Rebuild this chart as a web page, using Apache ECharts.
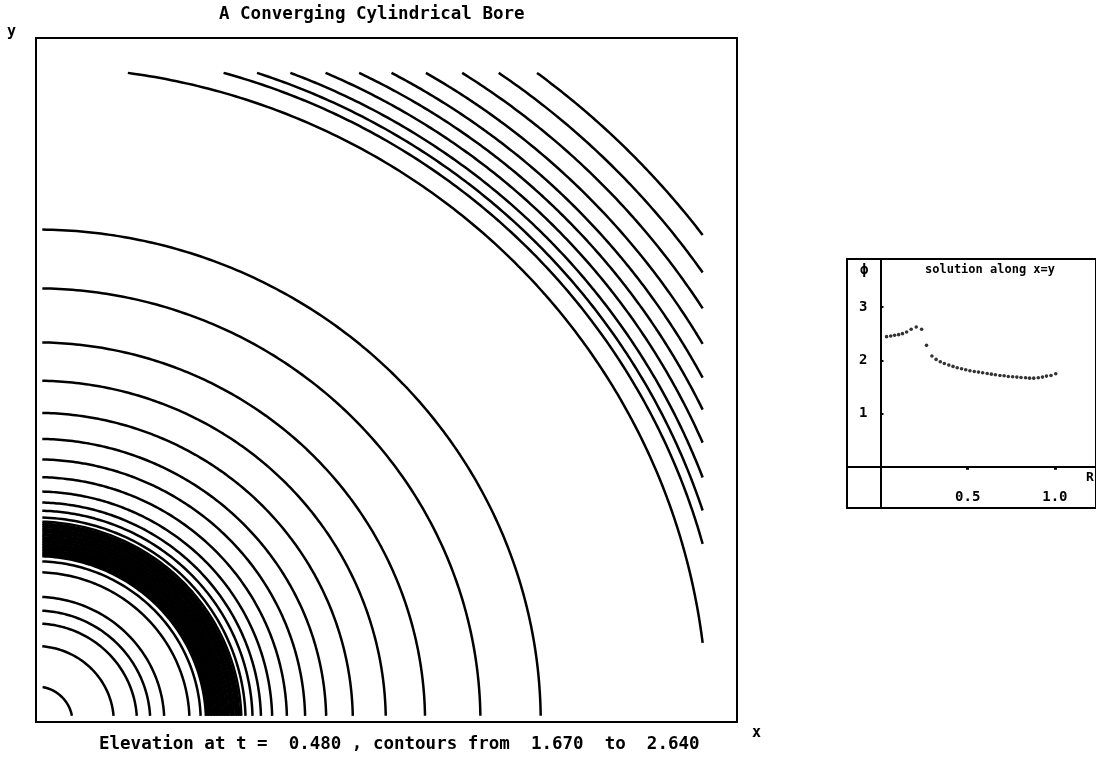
<!DOCTYPE html>
<html><head><meta charset="utf-8">
<script src="https://cdn.jsdelivr.net/npm/echarts@6/dist/echarts.min.js"></script>
<style>html,body{margin:0;padding:0;background:#fff}#c{width:1096px;height:760px}</style>
</head><body><div id="c"></div>
<script>
// contour radii (data units, centre at lower-left corner)
const farArcRadii = [0.958, 0.986, 1.000, 1.016, 1.035, 1.055, 1.076, 1.100, 1.127, 1.156, 1.188];
const outerRadii = [0.720, 0.634, 0.555, 0.499, 0.452, 0.414, 0.384, 0.358, 0.337, 0.321, 0.309, 0.299, 0.293];
const bandRadii = [0.290, 0.2875, 0.285, 0.2822, 0.2801, 0.2776, 0.2748, 0.2729, 0.2702, 0.2681, 0.2655, 0.2633, 0.2607, 0.2586, 0.2560, 0.2541, 0.2515, 0.2493, 0.2470, 0.2446, 0.2425];
const innerRadii = [0.235, 0.219, 0.183, 0.163, 0.144, 0.111, 0.052];
// computational domain that holds the contours
const domainX = [0.009, 0.951];
const domainY = [0.009, 0.949];

// inset: solution along x=y
const profileR = [0.035,0.059,0.081,0.104,0.126,0.150,0.176,0.205,0.236,0.264,0.295,0.319,0.343,0.366,0.392,0.416,0.440,0.465,0.489,0.513,0.538,0.562,0.586,0.612,0.636,0.659,0.685,0.709,0.733,0.758,0.782,0.806,0.832,0.855,0.879,0.905,0.929,0.952,0.978,1.005];
const profilePhi = [2.447,2.459,2.472,2.484,2.503,2.535,2.585,2.629,2.585,2.283,2.082,2.019,1.975,1.943,1.912,1.887,1.862,1.843,1.824,1.805,1.792,1.780,1.767,1.755,1.742,1.730,1.717,1.711,1.698,1.692,1.686,1.679,1.673,1.667,1.667,1.673,1.686,1.705,1.717,1.748];
const insetYTicks = [1, 2, 3];
const insetXTicks = [0.5, 1.0];

const allRadii = [].concat(farArcRadii, outerRadii, bandRadii, innerRadii);

function arc(r) {
  let lo = Math.asin(Math.min(1, domainY[0] / r));
  if (r > domainX[1]) lo = Math.max(lo, Math.acos(domainX[1] / r));
  let hi = Math.acos(Math.min(1, domainX[0] / r));
  if (r > domainY[1]) hi = Math.min(hi, Math.asin(domainY[1] / r));
  const pts = [];
  const n = 160;
  for (let i = 0; i <= n; i++) {
    const t = lo + (hi - lo) * i / n;
    pts.push([r * Math.cos(t), r * Math.sin(t)]);
  }
  return pts;
}

const FONT = 'DejaVu Sans Mono';
const series = allRadii.map(r => ({
  type: 'line', xAxisIndex: 0, yAxisIndex: 0, data: arc(r),
  showSymbol: false, symbol: 'none', silent: true, animation: false,
  lineStyle: { color: '#000', width: 2.5 }
}));
series.push({
  type: 'scatter', xAxisIndex: 1, yAxisIndex: 1,
  data: profileR.map((r, i) => [r, profilePhi[i]]),
  symbolSize: 3.6, itemStyle: { color: '#000' }, animation: false
});

const chart = echarts.init(document.getElementById('c'));
chart.setOption({
  animation: false,
  grid: [
    { left: 36, top: 38, width: 701, height: 684, show: true, borderColor: '#000', borderWidth: 2, backgroundColor: '#fff' },
    { left: 847, top: 259, width: 260, height: 249, show: true, borderColor: '#000', borderWidth: 2, backgroundColor: '#fff' }
  ],
  xAxis: [
    { gridIndex: 0, type: 'value', min: 0, max: 1, show: false },
    { gridIndex: 1, type: 'value', min: -0.192, max: 1.236,
      axisLine: { onZero: true, lineStyle: { color: '#000', width: 2 } },
      axisTick: { show: true, customValues: insetXTicks, length: 3, inside: false, lineStyle: { color: '#000', width: 3 } },
      axisLabel: { customValues: insetXTicks, inside: true, formatter: v => v.toFixed(1), color: '#000', fontFamily: FONT, fontWeight: 'bold', fontSize: 14, margin: 4 },
      splitLine: { show: false } }
  ],
  yAxis: [
    { gridIndex: 0, type: 'value', min: 0, max: 1, show: false },
    { gridIndex: 1, type: 'value', min: -0.774, max: 3.906,
      axisLine: { onZero: true, lineStyle: { color: '#000', width: 2 } },
      axisTick: { show: true, customValues: insetYTicks, length: 3, inside: true, lineStyle: { color: '#000', width: 2 } },
      axisLabel: { customValues: insetYTicks, inside: true, formatter: v => String(v), color: '#000', fontFamily: FONT, fontWeight: 'bold', fontSize: 14, margin: 12 },
      splitLine: { show: false } }
  ],
  graphic: [
    { type: 'text', left: 219, top: 5, silent: true,
      style: { text: 'A Converging Cylindrical Bore', fill: '#000', font: 'bold 17.5px "' + FONT + '"' } },
    { type: 'text', left: 7, top: 25, style: { text: 'y', fill: '#000', font: 'bold 15px "' + FONT + '"' } },
    { type: 'text', left: 752, top: 726, style: { text: 'x', fill: '#000', font: 'bold 15px "' + FONT + '"' } },
    { type: 'text', left: 99, top: 735, style: { text: 'Elevation at t =  0.480 , contours from  1.670  to  2.640', fill: '#000', font: 'bold 17.5px "' + FONT + '"' } },
    { type: 'text', left: 925, top: 264, style: { text: 'solution along x=y', fill: '#000', font: 'bold 12px "' + FONT + '"' } },
    { type: 'text', left: 860, top: 263, style: { text: 'ϕ', fill: '#000', font: 'bold 14px "' + FONT + '"' } },
    { type: 'text', left: 1086, top: 471, style: { text: 'R', fill: '#000', font: 'bold 13px "' + FONT + '"' } }
  ],
  series: series
});
</script>
</body></html>
